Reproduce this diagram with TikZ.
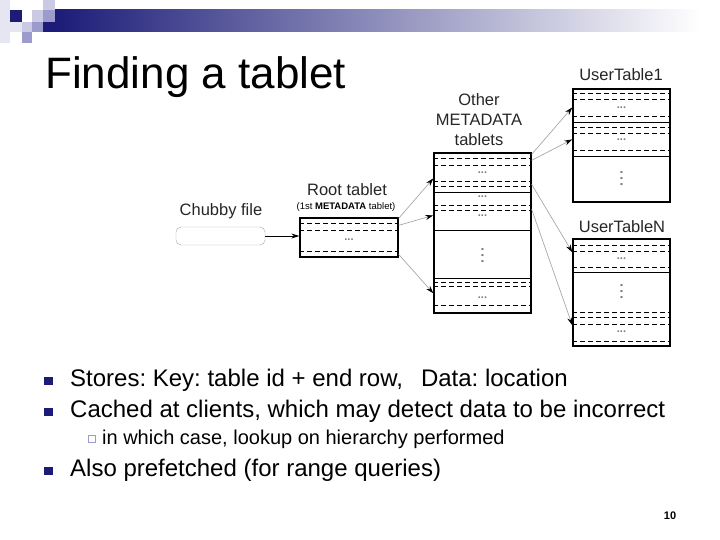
\documentclass[tikz,border=0pt]{standalone}
\usepackage{fontspec}
\setmainfont{Liberation Sans}
\frenchspacing
\usetikzlibrary{arrows.meta, positioning, calc}
\usepackage{xcolor}
\definecolor{Navy}{HTML}{1C1C78}
\definecolor{Lav}{HTML}{9C9CCC}
\definecolor{LavSoft}{HTML}{CACAE4}
\definecolor{LavPale}{HTML}{E6E6F2}
\definecolor{Ptr}{HTML}{A8A8A8}
\definecolor{Dots}{HTML}{7A7A7A}

\begin{document}
\begin{tikzpicture}[
            x=1pt, y=-1pt,
            tbl/.style={rectangle, draw=black, line width=1.3pt, fill=white, inner sep=0pt},
            chubby/.style={rectangle, rounded corners=5pt, draw=Ptr, fill=white, minimum width=89pt, minimum height=18pt, inner sep=0pt},
            dline/.style={dash pattern=on 5pt off 3pt, line width=0.8pt},
            tline/.style={dash pattern=on 5pt off 3pt, line width=1.5pt},
            sline/.style={line width=0.9pt},
            dots/.style={font=\fontsize{11}{11}\selectfont\bfseries, text=Dots, inner sep=0pt},
            vdots/.style={font=\fontsize{14}{14}\selectfont\bfseries, text=Dots, inner sep=0pt, rotate=90},
            lbl/.style={font=\fontsize{16.5}{20}\selectfont, text=black!85, align=center, inner sep=0pt},
            ptr/.style={-{Stealth[black, length=8pt, width=5pt]}, draw=Ptr, line width=0.7pt},
            feed/.style={-{Stealth[black, length=8pt, width=5pt]}, draw=black, line width=0.9pt},
            bul/.style={rectangle, fill=Navy, minimum size=8.5pt, inner sep=0pt},
            subbul/.style={rectangle, draw=Lav, line width=0.9pt, minimum size=7pt, inner sep=0pt},
            item/.style={anchor=base west, font=\fontsize{24}{28}\selectfont, inner sep=0pt},
            subitem/.style={anchor=base west, font=\fontsize{20}{24}\selectfont, inner sep=0pt}
        ]
            \useasboundingbox (0,0) rectangle (720,540);

            % Slide header: squares and fading bar
            \fill[LavPale] (0,0) rectangle (10,43);
            \fill[LavPale] (10,22) rectangle (22,32);
            \fill[Navy] (10,10) rectangle (22,22);
            \fill[LavSoft] (43,0) rectangle (55,10);
            \fill[LavSoft] (32,10) rectangle (43,22);
            \fill[Lav] (43,10) rectangle (55,22);
            \fill[LavSoft] (22,22) rectangle (32,32);
            \fill[Lav] (32,22) rectangle (43,32);
            \fill[Lav] (22,32) rectangle (32,43);
            \shade[left color=Navy, right color=white] (55,10) rectangle (700,32);
            \fill[Navy] (43,22) rectangle (56,32);

            \node[anchor=base west, font=\fontsize{44}{48}\selectfont, inner sep=0pt] (title) at (45,89) {Finding a tablet};

            % Chubby file and root tablet
            \node[lbl] (chubbylbl) at (221,211) {Chubby file};
            \node[chubby] (chubby) at (220.5,236) {};
            \node[lbl] (rootlbl) at (347,190) {Root tablet};
            \node[font=\fontsize{9.5}{10}\selectfont, inner sep=0pt] (rootsub) at (346,207) {(1st \textbf{METADATA} tablet)};
            \node[tbl, minimum width=98pt, minimum height=39pt] (root) at (349,237.5) {};
            \foreach \dy/\st in {6/dline, 13/dline, 34/dline}
                \draw[\st] ($(root.north west)+(0,\dy)$) -- ($(root.north east)+(0,\dy)$);
            \node[dots] at ($(root.north)+(0,22)$) {...};

            % Other METADATA tablets
            \node[lbl] (metalbl) at (479,120) {Other\\METADATA\\tablets};
            \node[tbl, minimum width=97pt, minimum height=160pt] (meta) at (482.5,233) {};
            \foreach \dy/\st in {6/dline, 13/dline, 29/tline, 34/dline, 40/sline, 53/dline, 58/dline,
                                 78/sline, 126/sline, 130/tline, 134/dline, 153/dline}
                \draw[\st] ($(meta.north west)+(0,\dy)$) -- ($(meta.north east)+(0,\dy)$);
            \foreach \dy in {20, 44, 63, 145}
                \node[dots] at ($(meta.north)+(0,\dy)$) {...};
            \node[vdots] at ($(meta.north)+(0,103)$) {.\,.\,.};

            % User tables
            \node[lbl] (ut1lbl) at (621,75) {UserTable1};
            \node[tbl, minimum width=97pt, minimum height=113pt] (ut1) at (621.5,145.5) {};
            \foreach \dy/\st in {5/dline, 11/dline, 28/tline, 34/sline, 39/dline, 45/dline, 62/tline, 68/sline}
                \draw[\st] ($(ut1.north west)+(0,\dy)$) -- ($(ut1.north east)+(0,\dy)$);
            \foreach \dy in {19, 51}
                \node[dots] at ($(ut1.north)+(0,\dy)$) {...};
            \node[vdots] at ($(ut1.north)+(0,90)$) {.\,.\,.};

            \node[lbl] (utnlbl) at (622,227) {UserTableN};
            \node[tbl, minimum width=97pt, minimum height=107pt] (utn) at (621.5,292.5) {};
            \foreach \dy/\st in {7/dline, 13/dline, 29/dline, 34/sline, 74/tline, 79/tline, 86/dline, 103/dline}
                \draw[\st] ($(utn.north west)+(0,\dy)$) -- ($(utn.north east)+(0,\dy)$);
            \foreach \dy in {20, 93}
                \node[dots] at ($(utn.north)+(0,\dy)$) {...};
            \node[vdots] at ($(utn.north)+(0,53)$) {.\,.\,.};

            % Pointer ends
            \coordinate (r1) at ($(root.north east)+(0,1)$);
            \coordinate (r2) at ($(root.north east)+(0,8)$);
            \coordinate (r3) at ($(root.north east)+(0,37)$);
            \coordinate (m1) at ($(meta.north west)+(0,26)$);
            \coordinate (m2) at ($(meta.north west)+(0,63)$);
            \coordinate (m3) at ($(meta.north west)+(0,141)$);
            \coordinate (ms1) at ($(meta.north east)+(0,2)$);
            \coordinate (ms2) at ($(meta.north east)+(0,8)$);
            \coordinate (ms3) at ($(meta.north east)+(0,32)$);
            \coordinate (ms4) at ($(meta.north east)+(0,57)$);
            \coordinate (u1) at ($(ut1.north west)+(0,19)$);
            \coordinate (u2) at ($(ut1.north west)+(0,51)$);
            \coordinate (u3) at ($(utn.north west)+(0,14)$);
            \coordinate (u4) at ($(utn.north west)+(0,87)$);

            % Pointers
            \draw[feed] (chubby.east) -- (chubby.east -| root.west);
            \draw[ptr] (r1) -- (m1);
            \draw[ptr] (r2) -- (m2);
            \draw[ptr] (r3) -- (m3);
            \draw[ptr] (ms1) -- (u1);
            \draw[ptr] (ms2) -- (u2);
            \draw[ptr] (ms3) -- (u3);
            \draw[ptr] (ms4) -- (u4);

            % Bullet list
            \node[bul] (b1) at (48.5,381) {};
            \node[item] (t1) at (70,386) {Stores: Key: table id + end row,\hspace{18pt}Data: location};
            \node[bul] (b2) at (48.5,412) {};
            \node[item] (t2) at (70,417) {Cached at clients, which may detect data to be incorrect};
            \node[subbul] (s1) at (92,439) {};
            \node[subitem] (t3) at (102,444) {in which case, lookup on hierarchy performed};
            \node[bul] (b3) at (48.5,471) {};
            \node[item] (t4) at (70,476) {Also prefetched (for range queries)};

            \node[font=\fontsize{11}{12}\selectfont\bfseries, inner sep=0pt] (page) at (670,516) {10};
        \end{tikzpicture}
\end{document}
